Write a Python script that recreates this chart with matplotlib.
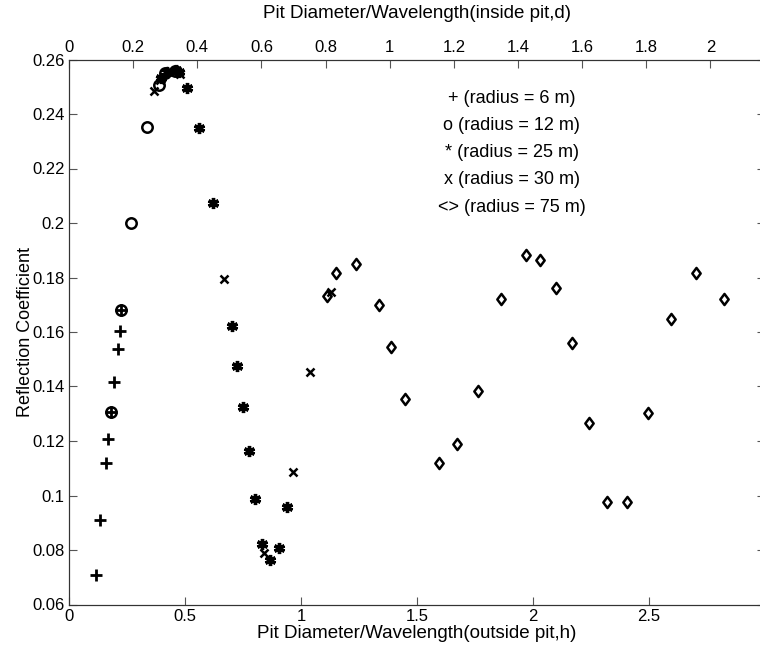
import matplotlib
matplotlib.use('Agg')
import matplotlib.pyplot as plt
from matplotlib.path import Path

plt.rcParams['font.family'] = ['Liberation Sans', 'DejaVu Sans']

# reflection coefficient vs. pit diameter / wavelength (outside pit), one series per pit radius
r6_x = [0.116, 0.134, 0.159, 0.168, 0.181, 0.194, 0.211, 0.220, 0.224]
r6_y = [0.0708, 0.0910, 0.1119, 0.1207, 0.1306, 0.1417, 0.1538, 0.1604, 0.1681]

r12_x = [0.181, 0.224, 0.267, 0.336, 0.388, 0.414, 0.457]
r12_y = [0.1306, 0.1681, 0.2000, 0.2352, 0.2506, 0.2550, 0.2558]

r25_x = [0.397, 0.422, 0.461, 0.474, 0.509, 0.560, 0.621, 0.703, 0.724, 0.750,
         0.776, 0.802, 0.832, 0.866, 0.905, 0.940]
r25_y = [0.2532, 0.2554, 0.2561, 0.2554, 0.2495, 0.2349, 0.2073, 0.1622, 0.1475, 0.1325,
         0.1163, 0.0987, 0.0822, 0.0763, 0.0807, 0.0958]

r30_x = [0.366, 0.392, 0.435, 0.478, 0.668, 0.841, 0.966, 1.039, 1.129]
r30_y = [0.2484, 0.2525, 0.2558, 0.2547, 0.1795, 0.0789, 0.1086, 0.1453, 0.1747]

r75_x = [1.112, 1.151, 1.237, 1.336, 1.388, 1.448, 1.595, 1.672, 1.763, 1.862,
         1.970, 2.030, 2.099, 2.168, 2.241, 2.319, 2.405, 2.496, 2.595, 2.703, 2.823]
r75_y = [0.1731, 0.1816, 0.1850, 0.1700, 0.1545, 0.1354, 0.1119, 0.1189, 0.1383, 0.1721,
         0.1883, 0.1864, 0.1762, 0.1560, 0.1266, 0.0976, 0.0976, 0.1302, 0.1647, 0.1816, 0.1721]

legend_lines = ['+ (radius = 6 m)', 'o (radius = 12 m)', '* (radius = 25 m)',
                'x (radius = 30 m)', '<> (radius = 75 m)']

xticks_bottom = [0, 0.5, 1, 1.5, 2, 2.5, 3]
xticklabels_bottom = ['0', '0.5', '1', '1.5', '2', '2.5', '3']
xticks_top = [0, 0.2, 0.4, 0.6, 0.8, 1, 1.2, 1.4, 1.6, 1.8, 2]
xticklabels_top = ['0', '0.2', '0.4', '0.6', '0.8', '1', '1.2', '1.4', '1.6', '1.8', '2']
yticks = [0.06, 0.08, 0.1, 0.12, 0.14, 0.16, 0.18, 0.2, 0.22, 0.24, 0.26]
yticklabels = ['0.06', '0.08', '0.1', '0.12', '0.14', '0.16', '0.18', '0.2', '0.22', '0.24', '0.26']

# wide-ish diamond, closer to the matlab 'd' marker than matplotlib's thin one
diamond = Path([(0, 1), (0.75, 0), (0, -1), (-0.75, 0), (0, 1)],
               [Path.MOVETO, Path.LINETO, Path.LINETO, Path.LINETO, Path.CLOSEPOLY])

W, H = 760, 651
fig = plt.figure(figsize=(W / 100, H / 100), dpi=100)
ax = fig.add_axes([69 / W, (H - 604.5) / H, (765 - 69) / W, (604.5 - 59.5) / H])

mk = dict(linestyle='none', color='k')
ax.plot(r6_x, r6_y, marker='+', markersize=9, markeredgewidth=2, **mk)
ax.plot(r12_x, r12_y, marker='o', markersize=7.5, markeredgewidth=1.8, markerfacecolor='none', **mk)
ax.plot(r25_x, r25_y, marker=(6, 2, 0), markersize=8, markeredgewidth=2.4, **mk)
ax.plot(r30_x, r30_y, marker='x', markersize=6, markeredgewidth=1.8, **mk)
ax.plot(r75_x, r75_y, marker=diamond, markersize=8, markeredgewidth=1.8, markerfacecolor='none', **mk)

ax.set_xlim(0, 3)
ax.set_ylim(0.06, 0.26)
ax.set_xticks(xticks_bottom)
ax.set_xticklabels(xticklabels_bottom)
ax.set_yticks(yticks)
ax.set_yticklabels(yticklabels)
ax.tick_params(direction='in', length=6, width=0.8, color='#555555', labelsize=12,
               right=True, top=False, pad=3)
ax.set_xlabel('Pit Diameter/Wavelength(outside pit,h)', fontsize=13.5, labelpad=1)
ax.set_ylabel('Reflection Coefficient', fontsize=13, labelpad=-1)

ax2 = ax.twiny()
ax2.set_xlim(0, 2.17)
ax2.set_xticks(xticks_top)
ax2.set_xticklabels(xticklabels_top)
ax2.tick_params(direction='in', length=6, width=0.8, color='#555555', labelsize=12, pad=3)
ax2.set_xlabel('Pit Diameter/Wavelength(inside pit,d)', fontsize=13.5, labelpad=16)

for sp in list(ax.spines.values()) + list(ax2.spines.values()):
    sp.set_color('#333333')
    sp.set_linewidth(0.8)

for i, line in enumerate(legend_lines):
    ax.text(0.636, 0.929 - i * 0.05, line, transform=ax.transAxes,
            ha='center', va='center', fontsize=13)

fig.savefig('out.png', dpi=100)
